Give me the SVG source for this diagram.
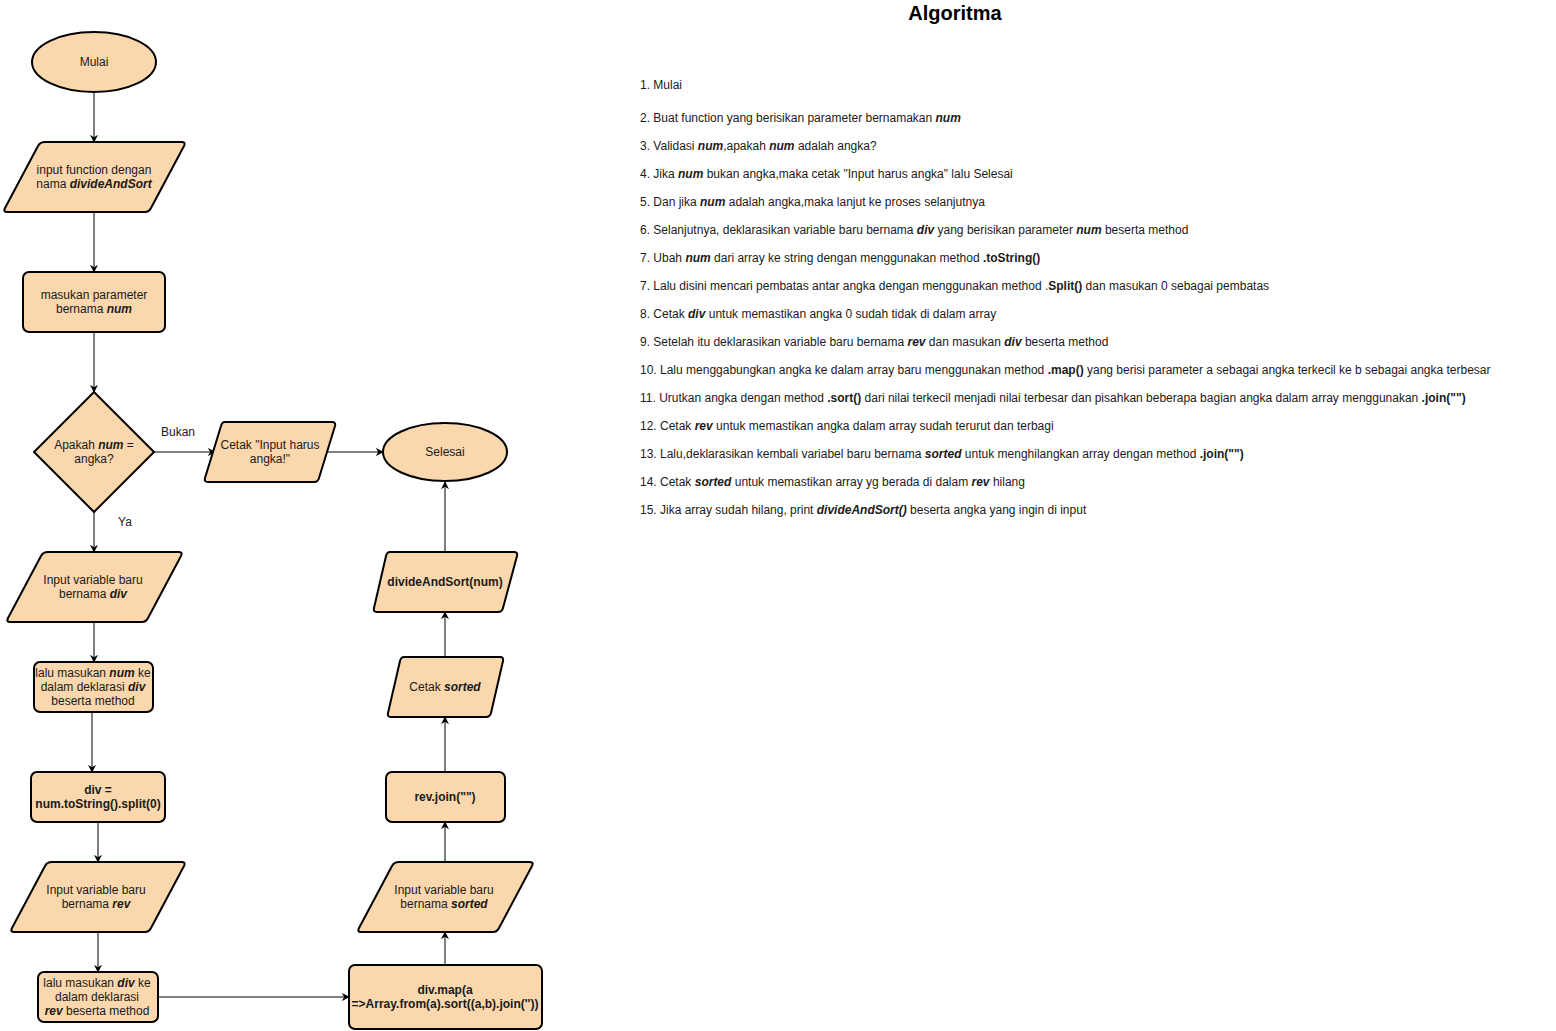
<svg xmlns="http://www.w3.org/2000/svg" width="1556" height="1031" viewBox="0 0 1556 1031">
  <style>
    text { font-family: "Liberation Sans", Arial, Helvetica, sans-serif; font-size: 12px; fill: #1a1a1a; }
    .node { fill: #fad7ac; stroke: #000; stroke-width: 2; stroke-linejoin: round; }
    .lbl { text-anchor: middle; }
    .b { font-weight: bold; }
    .bi { font-weight: bold; font-style: italic; }
    .edge { fill: none; stroke: #000; stroke-width: 1; }
    .title { font-size: 20px; font-weight: bold; text-anchor: middle; fill: #000; }
  </style>
  <defs>
    <marker id="arrow" viewBox="0 0 10 10" refX="9" refY="5" markerWidth="8" markerHeight="8" markerUnits="userSpaceOnUse" orient="auto">
      <path d="M0,0 L10,5 L0,10 L3,5 z" fill="#000"/>
    </marker>
  </defs>
  <rect width="1556" height="1031" fill="#fff"/>

  <!-- connectors -->
  <g id="connectors">
    <path class="edge" d="M94,92 V142" marker-end="url(#arrow)"/>
    <path class="edge" d="M94,212 V272" marker-end="url(#arrow)"/>
    <path class="edge" d="M94,332 V392" marker-end="url(#arrow)"/>
    <path class="edge" d="M154,452 H215" marker-end="url(#arrow)"/>
    <path class="edge" d="M326,452 H383" marker-end="url(#arrow)"/>
    <path class="edge" d="M94,512 V552" marker-end="url(#arrow)"/>
    <path class="edge" d="M94,622 V662" marker-end="url(#arrow)"/>
    <path class="edge" d="M92,712 V772" marker-end="url(#arrow)"/>
    <path class="edge" d="M98,822 V862" marker-end="url(#arrow)"/>
    <path class="edge" d="M98,932 V972" marker-end="url(#arrow)"/>
    <path class="edge" d="M158,997 H349" marker-end="url(#arrow)"/>
    <path class="edge" d="M445,965 V932" marker-end="url(#arrow)"/>
    <path class="edge" d="M445,862 V822" marker-end="url(#arrow)"/>
    <path class="edge" d="M445,772 V717" marker-end="url(#arrow)"/>
    <path class="edge" d="M445,657 V612" marker-end="url(#arrow)"/>
    <path class="edge" d="M445,552 V482" marker-end="url(#arrow)"/>
    <text x="178" y="436" class="lbl">Bukan</text>
    <text x="125" y="526" class="lbl">Ya</text>
  </g>

  <!-- flowchart nodes -->
  <g id="mulai">
    <ellipse class="node" cx="94" cy="62" rx="62" ry="30"/>
    <text x="94" y="66" class="lbl">Mulai</text>
  </g>

  <g id="input-function">
    <path class="node" d="M45,142 H182 Q186,142 184,146 L151,208 Q149,212 145,212 H7 Q3,212 5,208 L38,146 Q40,142 45,142 Z"/>
    <text x="94" y="174" class="lbl">input function dengan</text>
    <text x="94" y="188" class="lbl">nama <tspan class="bi">divideAndSort</tspan></text>
  </g>

  <g id="param-num">
    <rect class="node" x="23" y="272" width="142" height="60" rx="6"/>
    <text x="94" y="299" class="lbl">masukan parameter</text>
    <text x="94" y="313" class="lbl">bernama <tspan class="bi">num</tspan></text>
  </g>

  <g id="cek-angka">
    <path class="node" d="M94,392 L154,452 L94,512 L34,452 Z"/>
    <text x="94" y="449" class="lbl">Apakah <tspan class="bi">num</tspan> =</text>
    <text x="94" y="463" class="lbl">angka?</text>
  </g>

  <g id="cetak-error">
    <path class="node" d="M225,422 H332 Q336,422 335,426 L319,478 Q318,482 314,482 H208 Q204,482 205,478 L221,426 Q222,422 225,422 Z"/>
    <text x="270" y="449" class="lbl">Cetak "Input harus</text>
    <text x="270" y="463" class="lbl">angka!"</text>
  </g>

  <g id="selesai">
    <ellipse class="node" cx="445" cy="452" rx="62" ry="29"/>
    <text x="445" y="456" class="lbl">Selesai</text>
  </g>

  <g id="input-div">
    <path class="node" d="M48,552 H179 Q183,552 181,556 L148,618 Q146,622 142,622 H10 Q6,622 8,618 L41,556 Q43,552 48,552 Z"/>
    <text x="93" y="584" class="lbl">Input variable baru</text>
    <text x="93" y="598" class="lbl">bernama <tspan class="bi">div</tspan></text>
  </g>

  <g id="masukan-num">
    <rect class="node" x="34" y="662" width="119" height="50" rx="6"/>
    <text x="93" y="677" class="lbl">lalu masukan <tspan class="bi">num</tspan> ke</text>
    <text x="93" y="691" class="lbl">dalam deklarasi <tspan class="bi">div</tspan></text>
    <text x="93" y="705" class="lbl">beserta method</text>
  </g>

  <g id="div-split">
    <rect class="node" x="31" y="772" width="134" height="50" rx="6"/>
    <text x="98" y="794" class="lbl b">div =</text>
    <text x="98" y="808" class="lbl b">num.toString().split(0)</text>
  </g>

  <g id="input-rev">
    <path class="node" d="M52,862 H182 Q186,862 184,866 L151,928 Q149,932 145,932 H14 Q10,932 12,928 L45,866 Q47,862 52,862 Z"/>
    <text x="96" y="894" class="lbl">Input variable baru</text>
    <text x="96" y="908" class="lbl">bernama <tspan class="bi">rev</tspan></text>
  </g>

  <g id="masukan-div">
    <rect class="node" x="38" y="972" width="120" height="50" rx="6"/>
    <text x="97" y="987" class="lbl">lalu masukan <tspan class="bi">div</tspan> ke</text>
    <text x="97" y="1001" class="lbl">dalam deklarasi</text>
    <text x="97" y="1015" class="lbl"><tspan class="bi">rev</tspan> beserta method</text>
  </g>

  <g id="div-map">
    <rect class="node" x="349" y="965" width="193" height="64" rx="6"/>
    <text x="445" y="994" class="lbl b">div.map(a</text>
    <text x="445" y="1008" class="lbl b">=&gt;Array.from(a).sort((a,b).join(''))</text>
  </g>

  <g id="input-sorted">
    <path class="node" d="M399,862 H530 Q534,862 532,866 L499,928 Q497,932 493,932 H361 Q357,932 359,928 L392,866 Q394,862 399,862 Z"/>
    <text x="444" y="894" class="lbl">Input variable baru</text>
    <text x="444" y="908" class="lbl">bernama <tspan class="bi">sorted</tspan></text>
  </g>

  <g id="rev-join">
    <rect class="node" x="386" y="772" width="119" height="50" rx="6"/>
    <text x="445" y="801" class="lbl b">rev.join("")</text>
  </g>

  <g id="cetak-sorted">
    <path class="node" d="M404,657 H500 Q504,657 503,661 L491,713 Q490,717 486,717 H391 Q387,717 388,713 L400,661 Q401,657 404,657 Z"/>
    <text x="445" y="691" class="lbl">Cetak <tspan class="bi">sorted</tspan></text>
  </g>

  <g id="print-result">
    <path class="node" d="M390,552 H514 Q518,552 517,556 L503,608 Q502,612 498,612 H377 Q373,612 374,608 L386,556 Q387,552 390,552 Z"/>
    <text x="445" y="586" class="lbl b">divideAndSort(num)</text>
  </g>

  <!-- algorithm steps -->
  <g id="algoritma">
    <text x="955" y="20" class="title">Algoritma</text>
    <text x="640" y="89">1. Mulai</text>
    <text x="640" y="122">2. Buat function yang berisikan parameter bernamakan <tspan class="bi">num</tspan></text>
    <text x="640" y="150">3. Validasi <tspan class="bi">num</tspan>,apakah <tspan class="bi">num</tspan> adalah angka?</text>
    <text x="640" y="178">4. Jika <tspan class="bi">num</tspan> bukan angka,maka cetak "Input harus angka" lalu Selesai</text>
    <text x="640" y="206">5. Dan jika <tspan class="bi">num</tspan> adalah angka,maka lanjut ke proses selanjutnya</text>
    <text x="640" y="234">6. Selanjutnya, deklarasikan variable baru bernama <tspan class="bi">div</tspan> yang berisikan parameter <tspan class="bi">num</tspan> beserta method</text>
    <text x="640" y="262">7. Ubah <tspan class="bi">num</tspan> dari array ke string dengan menggunakan method <tspan class="b">.toString()</tspan></text>
    <text x="640" y="290">7. Lalu disini mencari pembatas antar angka dengan menggunakan method .<tspan class="b">Split()</tspan> dan masukan 0 sebagai pembatas</text>
    <text x="640" y="318">8. Cetak <tspan class="bi">div</tspan> untuk memastikan angka 0 sudah tidak di dalam array</text>
    <text x="640" y="346">9. Setelah itu deklarasikan variable baru bernama <tspan class="bi">rev</tspan> dan masukan <tspan class="bi">div</tspan> beserta method</text>
    <text x="640" y="374">10. Lalu menggabungkan angka ke dalam array baru menggunakan method <tspan class="b">.map()</tspan> yang berisi parameter a sebagai angka terkecil ke b sebagai angka terbesar</text>
    <text x="640" y="402">11. Urutkan angka dengan method <tspan class="b">.sort()</tspan> dari nilai terkecil menjadi nilai terbesar dan pisahkan beberapa bagian angka dalam array menggunakan <tspan class="b">.join("")</tspan></text>
    <text x="640" y="430">12. Cetak <tspan class="bi">rev</tspan> untuk memastikan angka dalam array sudah terurut dan terbagi</text>
    <text x="640" y="458">13. Lalu,deklarasikan kembali variabel baru bernama <tspan class="bi">sorted</tspan> untuk menghilangkan array dengan method <tspan class="b">.join("")</tspan></text>
    <text x="640" y="486">14. Cetak <tspan class="bi">sorted</tspan> untuk memastikan array yg berada di dalam <tspan class="bi">rev</tspan> hilang</text>
    <text x="640" y="514">15. Jika array sudah hilang, print <tspan class="bi">divideAndSort()</tspan> beserta angka yang ingin di input</text>
  </g>
</svg>
